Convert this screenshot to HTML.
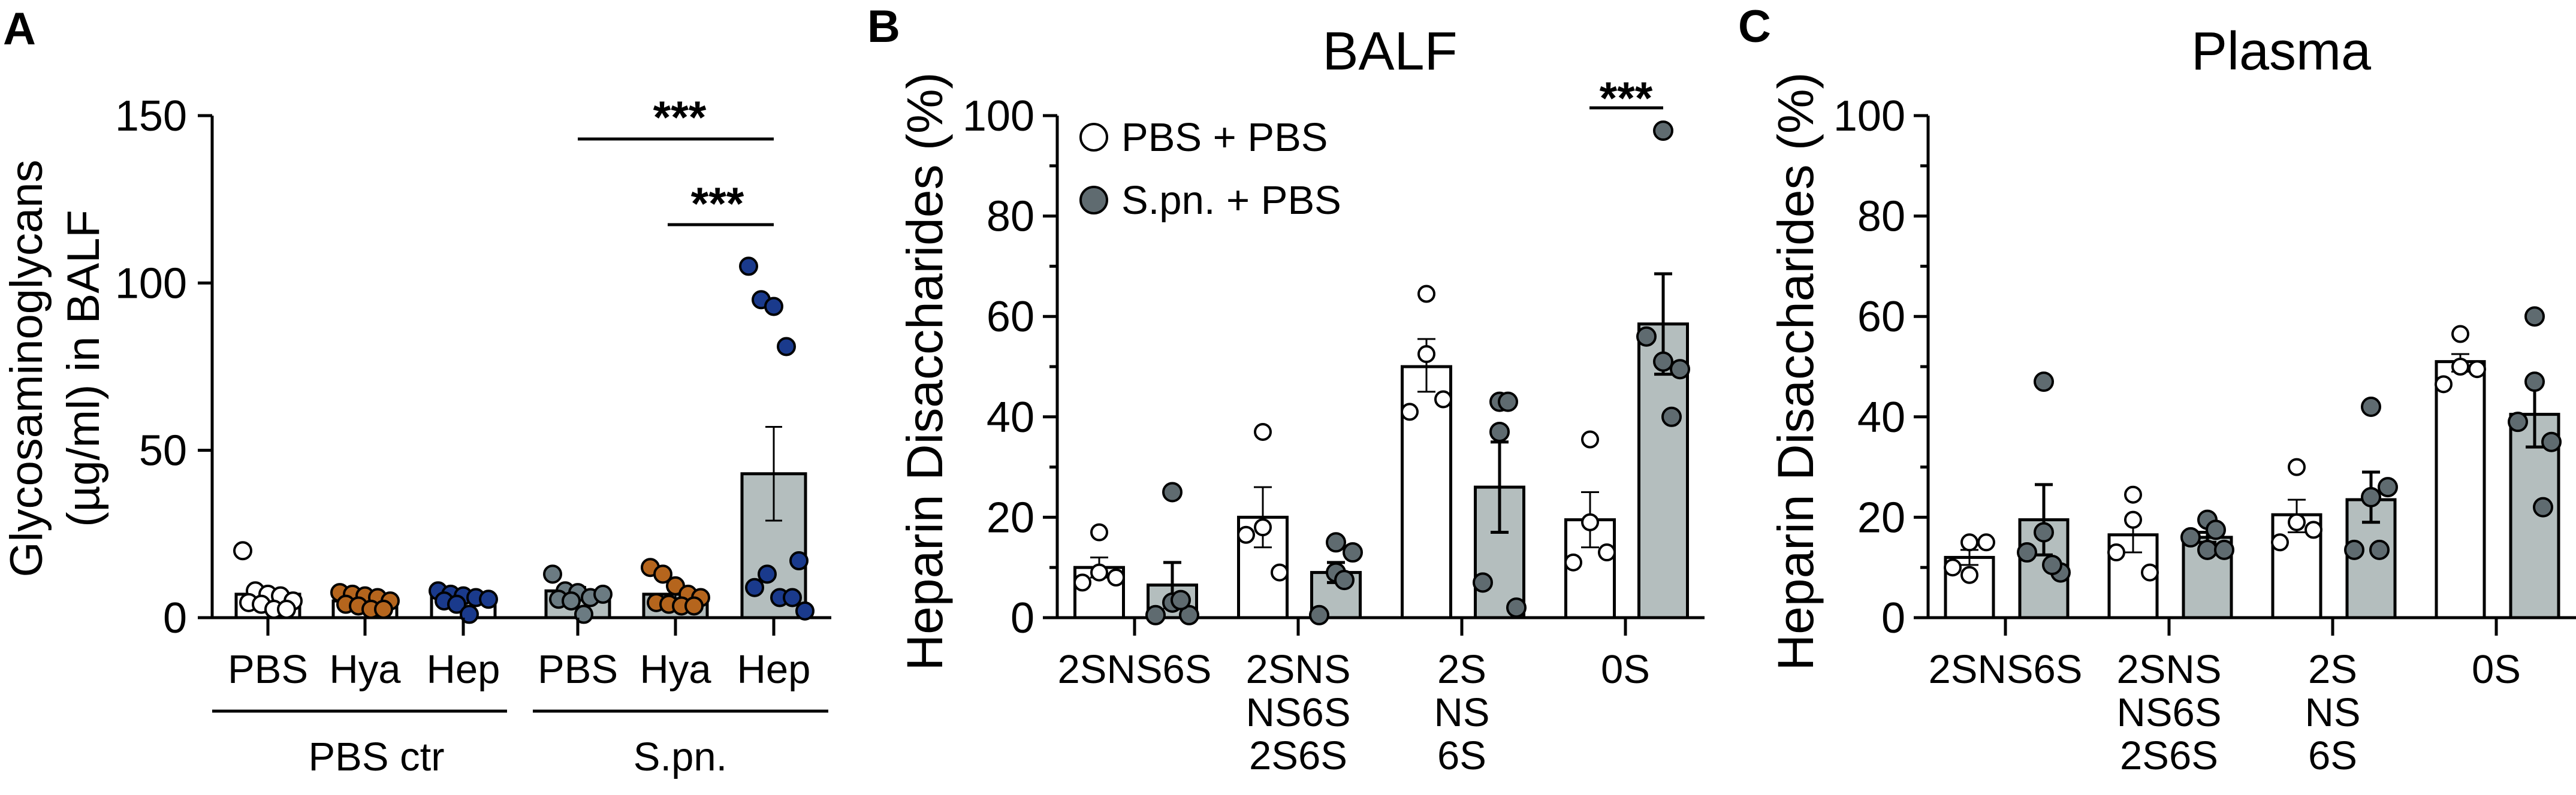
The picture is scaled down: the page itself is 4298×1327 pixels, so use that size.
<!DOCTYPE html>
<html><head><meta charset="utf-8">
<style>
html,body{margin:0;padding:0;background:#fff;overflow:hidden;}
svg{display:block;font-family:"Liberation Sans",Arial,sans-serif;}
</style></head>
<body>
<svg id="fig" width="4298" height="1327" viewBox="0 0 4298 1327" xmlns="http://www.w3.org/2000/svg"></svg>
<script>
// ---------- Panel A data ----------
const aCats = ["PBS","Hya","Hep","PBS","Hya","Hep"];
const aMeans = [7,5,6,8,7,43];
const aSemLo = [5.5,4.2,5.2,6.8,5.8,29];
const aSemHi = [8.5,5.8,6.8,9.2,8.2,57];
const aPts = [
 [20,8,7,6.5,5,4.5,4,2.5,2.5],
 [7.5,7,6.5,6,5,4,3.5,2.5,2.5],
 [8,7,6.5,6,5.5,5,4,1],
 [13,8,7.5,6,7,5.5,5,1],
 [15,13,9.5,7,6,4.5,4,3.5,3.5],
 [105,95,93,81,17,9,13,6,6,2]
];
const aTicks = [0,50,100,150];
const aGroups = ["PBS ctr","S.pn."];
// ---------- Panel B data ----------
const xCats = [["2SNS6S"],["2SNS","NS6S","2S6S"],["2S","NS","6S"],["0S"]];
const bPbsMean = [10,20,50,19.5];
const bPbsLo = [8,14,45,14];
const bPbsHi = [12,26,55.5,25];
const bPbsPts = [[17,9,7,8],[37,18,16.5,9],[64.5,52.5,41,43.5],[35.5,19,11,13]];
const bSpnMean = [6.5,9,26,58.5];
const bSpnLo = [2,7,17,48.5];
const bSpnHi = [11,11,35,68.5];
const bSpnPts = [[25,3,0.5,0.5,3.5],[15,9,0.5,13,7.5],[43,37,7,2,43],[97,51,56,49.5,40]];
// ---------- Panel C data ----------
const cPbsMean = [12,16.5,20.5,51];
const cPbsLo = [10.5,13,17,49];
const cPbsHi = [13.5,19.5,23.5,52.5];
const cPbsPts = [[15,8.5,10,15],[24.5,19.5,13,9],[30,19,15,17.5],[56.5,50,46.5,49.5]];
const cSpnMean = [19.5,16,23.5,40.5];
const cSpnLo = [12.5,15,19,34];
const cSpnHi = [26.5,17,29,47];
const cSpnPts = [[47,17,13,9,10.5],[19.5,13.5,16,13.5,17.5],[42,24,13.5,26,13.5],[60,47,39,35,22]];
const pctTicks = [0,20,40,60,80,100];

const NS="http://www.w3.org/2000/svg";
const svg=document.getElementById('fig');
function el(tag,attrs,parent,text){
  const e=document.createElementNS(NS,tag);
  for(const k in attrs) e.setAttribute(k,attrs[k]);
  if(text!==undefined) e.textContent=text;
  (parent||svg).appendChild(e);
  return e;
}
function txt(x,y,s,size,anchor,name,parent,weight){
  const t=el('text',{x:x,y:y,'font-size':size,'text-anchor':anchor||'middle','font-weight':weight||'normal',fill:'#000'},parent,s);
  
  
  return t;
}
function line(x1,y1,x2,y2,w,name,parent){
  const l=el('line',{x1:x1,y1:y1,x2:x2,y2:y2,stroke:'#000','stroke-width':w||5},parent);
  
  
  return l;
}
const Y0=1031, YTOP=193;
const FT=72, FX=67, FL=76;

// ================= PANEL A =================
const gA=el('g',{});


const yA=v=>Y0-(v/150)*(Y0-YTOP);
const aX=[447,609,773,964,1127,1291];
const aFill=['#ffffff','#ffffff','#ffffff','#b4bebe','#b4bebe','#b4bebe'];
const aDot=['#ffffff','#b5651d','#1a3a8c','#6b7b82','#b5651d','#1a3a8c'];
txt(5,74,"A",76,'start','panel-label-a',gA,'bold');
line(354,YTOP,354,Y0,5,'y-axis-a',gA);
line(352,Y0,1387,Y0,5,'x-axis-a',gA);
aTicks.forEach(v=>{
  line(330,yA(v),354,yA(v),5,'y-tick-a',gA);
  txt(312,yA(v)+25,String(v),FT,'end','y-tick-label-a',gA);
});
const ta=txt(0,0,"Glycosaminoglycans",FL,'middle','y-axis-title-a',gA);
ta.setAttribute('transform','translate(70,615) rotate(-90)');
const ta2=txt(0,0,"(µg/ml) in BALF",FL,'middle','y-axis-title-a-line2',gA);
ta2.setAttribute('transform','translate(165,615) rotate(-90)');
aCats.forEach((c,i)=>{
  const cx=aX[i];
  const r=el('rect',{x:cx-53,y:yA(aMeans[i]),width:106,height:Y0-yA(aMeans[i]),fill:aFill[i],stroke:'#000','stroke-width':5},gA);
  
  
  line(cx,yA(aSemLo[i]),cx,yA(aSemHi[i]),3,'error-bar-a',gA);
  line(cx-14,yA(aSemHi[i]),cx+14,yA(aSemHi[i]),3,'error-cap-a',gA);
  line(cx-14,yA(aSemLo[i]),cx+14,yA(aSemLo[i]),3,'error-cap-a',gA);
  aPts[i].forEach((v,j)=>{
    const dx=((j%5)-2)*21 + (j>=5?10:0);
    const p=el('circle',{cx:cx+dx,cy:yA(v),r:14,fill:aDot[i],stroke:'#000','stroke-width':4},gA);
    
    
  });
  line(cx,Y0,cx,1061,5,'x-tick-a',gA);
  txt(cx,1140,c,FX,'middle','x-tick-label-a',gA);
});
line(354,1187,846,1187,5,'group-line-pbs-ctr',gA);
line(889,1187,1382,1187,5,'group-line-spn',gA);
txt(628,1286,aGroups[0],FX,'middle','group-label-pbs-ctr',gA);
txt(1135,1286,aGroups[1],FX,'middle','group-label-spn',gA);
line(964,232,1291,232,5,'sig-bracket-1',gA);
txt(1134,222,"***",76,'middle','sig-stars-1',gA,'bold');
line(1114,375,1291,375,5,'sig-bracket-2',gA);
txt(1197,366,"***",76,'middle','sig-stars-2',gA,'bold');

// ================= PANELS B / C =================
function pctPanel(o){
  const g=el('g',{});
  
  
  const y=v=>Y0-(v/100)*(Y0-YTOP);
  txt(o.labelX,70,o.letter,76,'start','panel-label-'+o.letter.toLowerCase(),g,'bold');
  txt(o.titleX,116,o.title,90,'middle','chart-title-'+o.letter.toLowerCase(),g);
  line(o.ax,YTOP,o.ax,Y0,5,'y-axis',g);
  line(o.ax-2,Y0,o.xEnd,Y0,5,'x-axis',g);
  for(let v=0;v<=100;v+=10){
    const major=pctTicks.includes(v);
    line(major?o.ax-24:o.ax-13,y(v),o.ax,y(v),5,major?'y-tick':'y-minor-tick',g);
    if(major) txt(o.ax-38,y(v)+25,String(v),FT,'end','y-tick-label',g);
  }
  const tt=txt(0,0,"Heparin Disaccharides (%)",84,'middle','y-axis-title',g);
  tt.setAttribute('transform','translate('+(o.ax-192)+',620) rotate(-90)');
  xCats.forEach((c,i)=>{
    const tx=o.x0+i*o.step;
    [[o.pM,o.pL,o.pH,o.pP,'#ffffff','#ffffff',-o.offL,13],[o.sM,o.sL,o.sH,o.sP,'#b4bebe','#5f6b70',o.offR,15]].forEach((s,k)=>{
      const cx=tx+s[6];
      const r=el('rect',{x:cx-o.bw/2,y:y(s[0][i]),width:o.bw,height:Y0-y(s[0][i]),fill:s[4],stroke:'#000','stroke-width':5},g);
      
      
      const ew=k?5:3;
      line(cx,y(s[1][i]),cx,y(s[2][i]),ew,'error-bar',g);
      line(cx-15,y(s[2][i]),cx+15,y(s[2][i]),ew,'error-cap',g);
      line(cx-15,y(s[1][i]),cx+15,y(s[1][i]),ew,'error-cap',g);
      const n=s[3][i].length;
      s[3][i].forEach((v,j)=>{
        const dx=n===4?[0,0,-28,28][j]:[0,0,-28,28,14][j];
        const p=el('circle',{cx:cx+dx,cy:y(v),r:s[7],fill:s[5],stroke:'#000','stroke-width':4},g);
        
        
      });
    });
    line(tx,Y0,tx,1061,5,'x-tick',g);
    c.forEach((s,li)=>txt(tx,1140+li*72,s,FX,'middle','x-tick-label',g));
  });
  return g;
}
const gB=pctPanel({name:'panel-b',letter:'B',labelX:1447,title:'BALF',titleX:2319,ax:1764,xEnd:2844,x0:1893,step:273,offL:59,offR:63,bw:81,
  pM:bPbsMean,pL:bPbsLo,pH:bPbsHi,pP:bPbsPts,sM:bSpnMean,sL:bSpnLo,sH:bSpnHi,sP:bSpnPts});
const gC=pctPanel({name:'panel-c',letter:'C',labelX:2900,title:'Plasma',titleX:3806,ax:3217,xEnd:4298,x0:3346,step:273,offL:60,offR:64,bw:80,
  pM:cPbsMean,pL:cPbsLo,pH:cPbsHi,pP:cPbsPts,sM:cSpnMean,sL:cSpnLo,sH:cSpnHi,sP:cSpnPts});
// legend B
const lg=el('g',{},gB);


const l1=el('circle',{cx:1825,cy:229,r:22,fill:'#fff',stroke:'#000','stroke-width':4},lg);


txt(1871,252,"PBS + PBS",FX,'start','legend-entry-pbs',lg);
const l2=el('circle',{cx:1825,cy:334,r:22,fill:'#5f6b70',stroke:'#000','stroke-width':4},lg);


txt(1871,357,"S.pn. + PBS",FX,'start','legend-entry-spn',lg);
line(2652,180,2775,180,5,'sig-bracket-b',gB);
txt(2713,190,"***",76,'middle','sig-stars-b',gB,'bold');
</script>
</body></html>
